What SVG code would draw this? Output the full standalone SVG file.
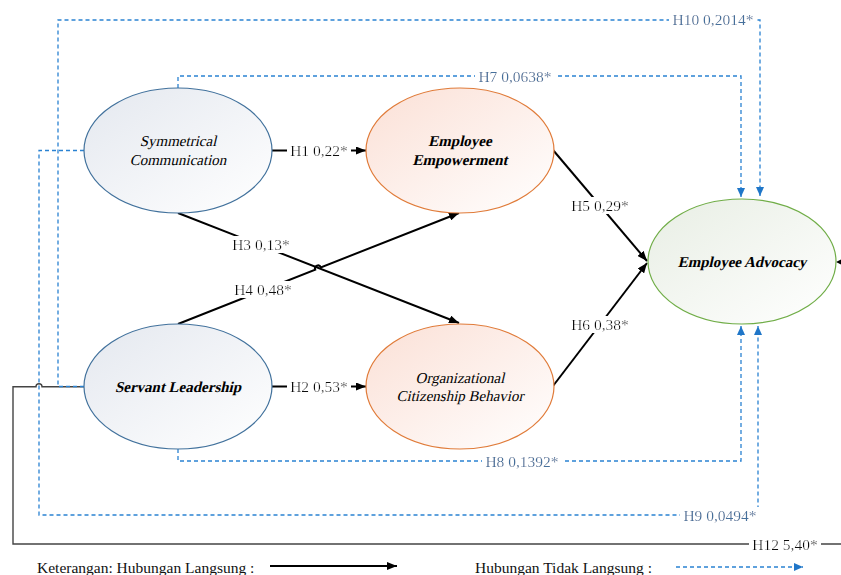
<svg xmlns="http://www.w3.org/2000/svg" width="841" height="575" viewBox="0 0 841 575">
<style>
text{font-family:"Liberation Serif","Times New Roman",serif;}
.nt{font-size:15px;text-anchor:middle;fill:#000;}
.b{font-weight:bold;}
.lbl{font-size:15.5px;fill:#111;text-anchor:middle;filter:url(#bg);}
.ilbl{font-size:15.5px;fill:#44709c;text-anchor:middle;filter:url(#bg);}
.leg{font-size:15.5px;fill:#111;}
.dir{fill:none;stroke:#000;stroke-width:2;}
.ind{fill:none;stroke:#2a82d2;stroke-width:1.3;stroke-dasharray:4,3;}
.h12{fill:none;stroke:#444;stroke-width:1.4;}
.eb{stroke:#41719c;stroke-width:1.2;}
.eo{stroke:#e07b39;stroke-width:1.2;}
.eg{stroke:#70ad47;stroke-width:1.2;}
</style>
<defs>
<filter id="bg" x="-0.04" y="0" width="1.08" height="1"><feFlood flood-color="#ffffff"/><feComposite in="SourceGraphic"/></filter>
<marker id="ab" markerUnits="userSpaceOnUse" markerWidth="10" markerHeight="8" refX="10" refY="4" orient="auto"><path d="M0,0 L10,4 L0,8 z" fill="#000"/></marker>
<marker id="au" markerUnits="userSpaceOnUse" markerWidth="9" markerHeight="8" refX="9" refY="4" orient="auto"><path d="M0,0 L9,4 L0,8 z" fill="#1f76c8"/></marker>
<linearGradient id="gb" x1="0" y1="0" x2="1" y2="1"><stop offset="0" stop-color="#e4e8ef"/><stop offset="1" stop-color="#ffffff"/></linearGradient>
<linearGradient id="go" x1="0" y1="0" x2="1" y2="1"><stop offset="0" stop-color="#fbe0d6"/><stop offset="1" stop-color="#ffffff"/></linearGradient>
<linearGradient id="gg" x1="0" y1="0" x2="1" y2="1"><stop offset="0" stop-color="#e8eee4"/><stop offset="1" stop-color="#ffffff"/></linearGradient>
</defs>

<g id="connectors">
<!-- H12 -->
<path class="h12" d="M84,386.7 H42 A3,3 0 0 0 36,386.7 H13 V544 H841"/>
<polygon points="836,262 843,258.5 843,265.5" fill="#000"/>
<!-- H10 -->
<path class="ind" d="M84,386.5 H58 V20 H760 V196" marker-end="url(#au)"/>
<!-- H9 -->
<path class="ind" d="M84,150.5 H39 V515 H758 V326" marker-end="url(#au)"/>
<!-- H7 -->
<path class="ind" d="M178,88 V76 H741 V197" marker-end="url(#au)"/>
<!-- H8 -->
<path class="ind" d="M178,449 V461 H741 V326" marker-end="url(#au)"/>
<!-- direct -->
<line class="dir" x1="272" y1="150.5" x2="366" y2="150.5" marker-end="url(#ab)"/>
<line class="dir" x1="272" y1="386.5" x2="366" y2="386.5" marker-end="url(#ab)"/>
<line class="dir" x1="178" y1="213" x2="459" y2="323" marker-end="url(#ab)"/>
<path class="dir" d="M178,324 L315.2,269.6 A3,3 0 0 1 320.8,267.4 L459,213" marker-end="url(#ab)"/>
<line class="dir" x1="553" y1="150" x2="647" y2="261" marker-end="url(#ab)"/>
<line class="dir" x1="553" y1="386" x2="647" y2="263" marker-end="url(#ab)"/>
<text class="lbl" x="319" y="156">H1 0,22*</text>
<text class="lbl" x="319" y="392">H2 0,53*</text>
<text class="lbl" x="261" y="250">H3 0,13*</text>
<text class="lbl" x="263" y="295">H4 0,48*</text>
<text class="lbl" x="600" y="211">H5 0,29*</text>
<text class="lbl" x="600" y="330">H6 0,38*</text>
<text class="ilbl" x="713" y="25">H10 0,2014*</text>
<text class="ilbl" x="515" y="82">H7 0,0638*</text>
<text class="ilbl" x="522" y="467">H8 0,1392*</text>
<text class="ilbl" x="720" y="521">H9 0,0494*</text>
<text class="lbl" x="785" y="550">H12 5,40*</text>
</g>

<g id="symmetrical-communication">
<ellipse class="eb" cx="178" cy="150.5" rx="94" ry="62.5" fill="url(#gb)"/>
<text class="nt" transform="translate(178,146) skewX(-13)">Symmetrical</text>
<text class="nt" transform="translate(178,165) skewX(-13)">Communication</text>
</g>
<g id="employee-empowerment">
<ellipse class="eo" cx="460" cy="150.5" rx="94" ry="62.5" fill="url(#go)"/>
<text class="nt b" transform="translate(460,146) skewX(-13)">Employee</text>
<text class="nt b" transform="translate(460,165) skewX(-13)">Empowerment</text>
</g>
<g id="servant-leadership">
<ellipse class="eb" cx="178" cy="386.5" rx="94" ry="62.5" fill="url(#gb)"/>
<text class="nt b" transform="translate(178,392) skewX(-13)">Servant Leadership</text>
</g>
<g id="ocb">
<ellipse class="eo" cx="460" cy="386.5" rx="94" ry="62.5" fill="url(#go)"/>
<text class="nt" transform="translate(460,383) skewX(-13)">Organizational</text>
<text class="nt" transform="translate(460,401) skewX(-13)">Citizenship Behavior</text>
</g>
<g id="employee-advocacy">
<ellipse class="eg" cx="742" cy="261.5" rx="94" ry="62.5" fill="url(#gg)"/>
<text class="nt b" transform="translate(742,267) skewX(-13)">Employee Advocacy</text>
</g>

<g id="legend">
<text class="leg" x="37" y="573">Keterangan: Hubungan Langsung :</text>
<line class="dir" x1="270" y1="566" x2="397" y2="566" marker-end="url(#ab)"/>
<text class="leg" x="475" y="573">Hubungan Tidak Langsung :</text>
<path class="ind" d="M676,567 H803" marker-end="url(#au)"/>
</g>
</svg>
